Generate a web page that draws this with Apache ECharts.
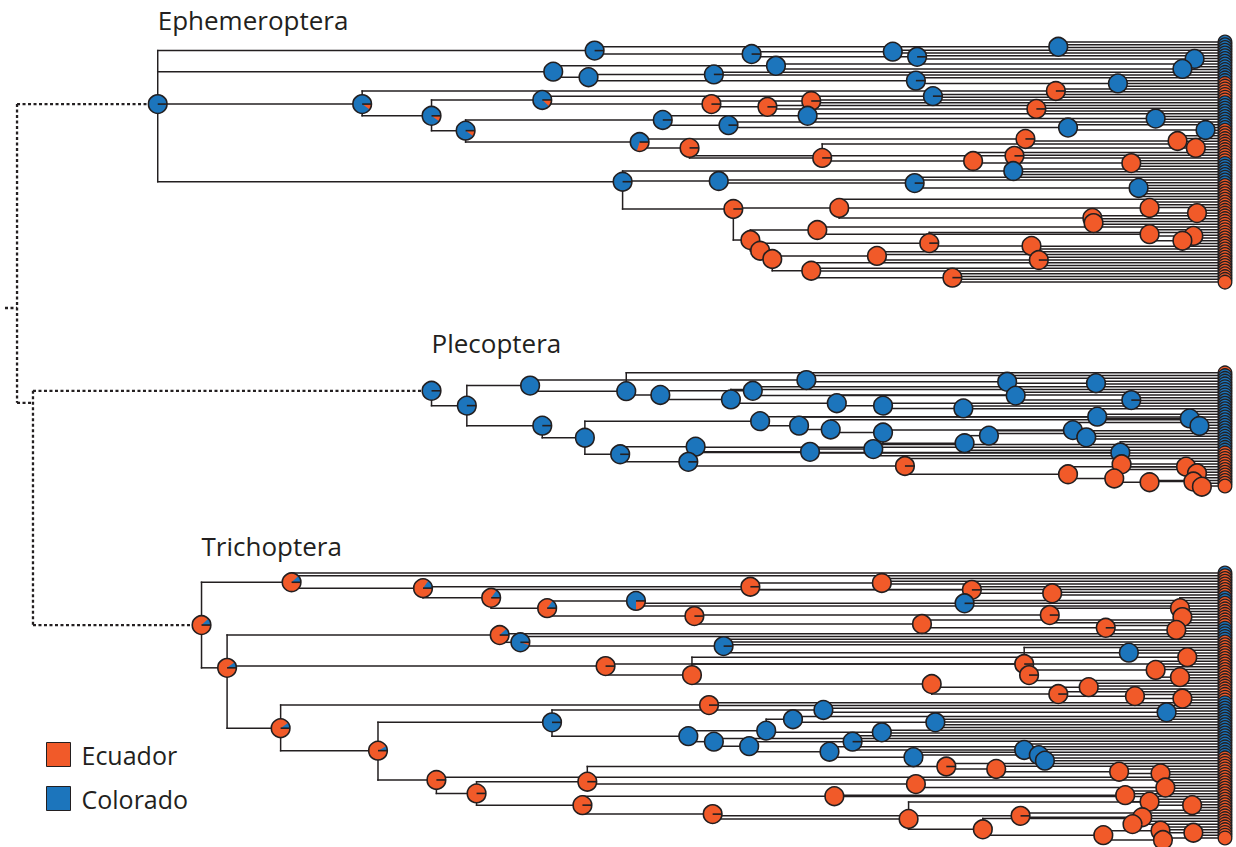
<!DOCTYPE html>
<html><head><meta charset="utf-8">
<script src="https://cdn.jsdelivr.net/npm/echarts@6.0.0/dist/echarts.min.js"></script>
<style>html,body{margin:0;padding:0;background:#fff}#chart{width:1236px;height:847px}</style>
</head><body><div id="chart"></div>
<script>
// ---------------- DATA ----------------
// x: relative time from the root (tips at 100); y: row position (top = 0)
// blue: probability of Colorado state at a node (1 - Ecuador)
const ephNodeX = [12.3, 48.2, 44.8, 29.1, 50.5, 61.1, 72.7, 74.7, 86.3, 97.5,
  96.5, 63.1, 47.7, 58.0, 74.6, 91.2, 76.0, 86.1, 34.8, 43.9,
  37.6, 57.8, 62.4, 66.0, 84.5, 65.7, 53.8, 51.9, 59.2, 94.3,
  87.1, 98.4, 56.0, 83.6, 96.1, 97.6, 66.9, 82.7, 79.3, 92.3,
  82.6, 58.4, 74.5, 92.9, 59.6, 68.3, 93.8, 97.7, 89.1, 89.2,
  61.0, 66.5, 93.8, 97.4, 96.5, 61.8, 75.7, 84.1, 62.8, 71.4,
  84.7, 66.0, 77.6];
const ephNodeY = [18.0, 2.5, 8.6, 18.0, 40.5, 3.5, 2.8, 4.3, 1.4, 4.9,
  7.8, 6.9, 10.2, 9.4, 11.2, 12.0, 15.7, 14.2, 21.4, 16.8,
  25.7, 18.0, 18.8, 17.1, 19.4, 21.4, 22.6, 29.0, 24.1, 22.2,
  24.8, 25.5, 30.7, 28.1, 28.7, 30.7, 33.6, 33.0, 34.5, 35.1,
  37.4, 40.3, 40.9, 42.3, 48.4, 48.1, 48.1, 49.6, 51.0, 52.5,
  57.4, 54.5, 55.7, 56.2, 57.6, 60.5, 58.3, 59.1, 62.9, 62.0,
  63.2, 66.3, 68.3];
const ephNodeBlue = [0.998, 0.998, 1, 0.9, 0.998, 0.998, 1, 0.998, 1, 1,
  1, 1, 1, 0.998, 0.998, 1, 0.998, 0.002, 0.9, 0.88,
  0.9, 0.002, 0.002, 0.002, 0.002, 1, 0.998, 0.7, 0.998, 1,
  1, 1, 0.002, 0.002, 0, 0, 0.002, 0.002, 0, 0,
  1, 1, 0.998, 1, 0.002, 0, 0, 0, 0, 0,
  0, 0, 0, 0, 0, 0, 0.002, 0, 0, 0,
  0.002, 0, 0.002];
const ephNodeParent = [-1, 0, 0, 0, 0, 1, 5, 5, 1, 7,
  11, 2, 2, 12, 12, 14, 19, 3, 3, 18,
  18, 19, 21, 21, 22, 26, 20, 20, 26, 25,
  28, 30, 27, 27, 33, 33, 32, 32, 36, 38,
  4, 4, 41, 42, 4, 44, 45, 46, 45, 48,
  44, 50, 51, 52, 52, 50, 55, 56, 55, 58,
  59, 58, 61];
// tip states, top to bottom: C = Colorado, E = Ecuador
const ephTipStates = 'CCCCCCCCCC' + 'CCCCCEEEEE' + 'EECCCCCCCC' + 'CCEEEEEEEE' + 'EEEECCCCCC' +
  'CCEEEEEEEE' + 'EEEEEEEEEE' + 'EEEEEEEEEE' + 'EEEEEEEE';

const plecoNodeX = [34.8, 37.7, 42.9, 65.6, 50.8, 53.6, 61.2, 59.4, 43.9, 47.4,
  61.8, 65.0, 50.3, 56.5, 55.9, 65.9, 82.1, 89.4, 82.8, 92.3,
  68.1, 71.9, 78.5, 67.6, 71.9, 89.5, 97.1, 97.9, 87.5, 88.6,
  78.6, 80.6, 71.1, 91.4, 91.5, 73.7, 87.1, 90.9, 93.8, 96.8,
  97.7, 97.4, 98.1];
const plecoNodeY = [101.1, 105.4, 99.6, 98.0, 101.2, 102.3, 101.1, 103.6, 111.2, 114.7,
  109.9, 111.2, 119.5, 117.3, 121.7, 118.8, 98.5, 98.9, 102.5, 103.8,
  104.7, 105.4, 106.2, 112.3, 113.2, 108.6, 109.1, 111.3, 112.5, 114.6,
  116.3, 114.1, 118.0, 119.0, 122.4, 122.9, 125.3, 126.5, 127.6, 123.1,
  125.0, 127.4, 128.9];
const plecoNodeBlue = [0.998, 0.998, 1, 1, 1, 1, 1, 1, 0.998, 1,
  1, 1, 0.998, 1, 0.998, 1, 1, 1, 1, 0.998,
  1, 1, 1, 1, 1, 1, 1, 1, 1, 1,
  1, 1, 1, 1, 0, 0.002, 0, 0, 0, 0,
  0, 0, 0];
const plecoNodeParent = [-1, 0, 1, 2, 2, 4, 5, 5, 1, 8,
  9, 10, 9, 12, 12, 13, 3, 16, 6, 18,
  7, 20, 21, 11, 23, 10, 25, 26, 24, 28,
  32, 30, 15, 14, 33, 14, 35, 36, 37, 34,
  39, 38, 41];
const plecoTipStates = 'ECCCCCCCCC' + 'CCCCCCCCCC' + 'CCCCCCCCCE' + 'EEEEEEEEEE' + 'EE';

const trichoNodeX = [15.9, 23.3, 18.0, 34.1, 61.0, 39.7, 44.3, 51.6, 56.4, 40.4,
  42.1, 58.8, 49.1, 56.2, 22.4, 57.6, 30.4, 44.7, 55.9, 58.0,
  60.9, 62.3, 64.5, 67.0, 35.2, 38.5, 47.6, 47.2, 57.9, 71.8,
  79.2, 78.6, 85.8, 85.6, 75.1, 90.2, 96.3, 96.5, 96.0, 92.1,
  96.9, 83.5, 83.9, 94.3, 96.3, 75.9, 88.8, 86.3, 92.6, 96.5,
  95.2, 76.2, 71.8, 69.4, 67.5, 74.4, 83.5, 84.7, 85.2, 77.1,
  81.2, 91.3, 94.7, 74.6, 95.1, 67.9, 91.8, 93.8, 97.3, 74.0,
  83.2, 93.2, 92.4, 80.1, 90.0, 94.7, 94.9, 97.4];
const trichoNodeY = [169.0, 156.6, 181.4, 158.3, 157.9, 161.1, 164.1, 162.0, 166.4, 171.9,
  174.0, 175.1, 180.9, 183.5, 198.9, 192.2, 205.4, 197.2, 201.2, 202.8,
  204.1, 199.6, 196.3, 193.6, 213.9, 217.8, 214.4, 221.2, 223.8, 156.8,
  158.8, 162.7, 159.8, 166.1, 168.7, 169.8, 164.1, 166.7, 170.4, 177.0,
  178.3, 180.3, 183.5, 182.0, 184.1, 186.1, 187.0, 189.0, 189.6, 190.3,
  194.3, 197.2, 200.1, 202.8, 205.7, 207.3, 205.2, 206.7, 208.3, 210.0,
  210.7, 211.5, 212.0, 215.1, 216.1, 218.6, 218.3, 220.2, 221.2, 225.2,
  224.3, 224.7, 226.7, 228.2, 229.9, 228.6, 231.3, 229.2];
const trichoNodeBlue = [0.12, 0.12, 0.10, 0.15, 0.002, 0.15, 0.15, 0.75, 0.002, 0.12,
  0.95, 0.998, 0.002, 0, 0.10, 0.002, 0.08, 0.998, 1, 1,
  1, 1, 1, 1, 0.002, 0.002, 0.002, 0.002, 0.002, 0,
  0.002, 0.998, 0, 0.002, 0, 0.002, 0, 0, 0, 1,
  0, 0.002, 0.002, 0, 0, 0, 0, 0.002, 0, 0,
  1, 1, 1, 0.998, 1, 1, 1, 0.998, 1, 0.002,
  0, 0, 0, 0, 0, 0, 0, 0, 0, 0,
  0.002, 0, 0, 0, 0, 0, 0, 0];
const trichoNodeParent = [-1, 0, 0, 1, 3, 3, 5, 6, 6, 2,
  9, 10, 2, 12, 2, 14, 14, 16, 17, 18,
  19, 18, 21, 17, 16, 24, 25, 25, 27, 4,
  4, 7, 30, 8, 8, 34, 33, 36, 35, 11,
  13, 13, 41, 42, 43, 13, 45, 45, 47, 48,
  23, 22, 21, 20, 20, 54, 53, 56, 57, 26,
  59, 60, 61, 26, 63, 27, 65, 66, 67, 28,
  28, 70, 71, 69, 73, 74, 74, 75];
const trichoTipStates = 'CEEEEEEEEC' + 'CEEEEEEEEE' + 'CCCCCEEEEE' + 'EEEEEEEEEE' + 'EEEEEEECCC' +
  'CCCCCCCCCC' + 'CCCCCCCEEE' + 'EEEEEEEEEE' + 'EEEEEEEEEE' + 'EEEEEEE';

// backbone joining the three orders (dashed), and which backbone node each order hangs from
const backboneX = [-0.25, 0.74, 2.05];
const backboneY = [77.1, 77.1, 104.6];
const backboneParent = [-1, 0, 1];
const cladeRootParent = [1, 2, 2];

const cladeNames = ['Ephemeroptera', 'Plecoptera', 'Trichoptera'];
const cladeLabelX = [12.3, 34.8, 15.9];
const cladeLabelY = [-6.4, 87.2, 146.1];
const legendNames = ['Ecuador', 'Colorado'];

// ---------------- LAYOUT ----------------
const ORANGE = '#F15A29', BLUE = '#1C75BC', EDGE = '#231f20';
const TIP_X = 100, TIP_STEP = 0.8;
const tipStarts = [0, 95.9, 153.9];

function buildClade(nx, ny, nb, np, tipStates, tipStart) {
  const nodes = nx.map((x, i) => ({ x: x, y: ny[i], p: nb[i], parent: np[i], kids: [] }));
  nodes.forEach(n => { if (n.parent >= 0) nodes[n.parent].kids.push(n.y); });
  const tips = tipStates.split('').map((s, i) => ({ y: tipStart + i * TIP_STEP, s: s, parent: -1 }));
  const order = nodes.map((d, i) => i).sort((a, b) => nodes[b].x - nodes[a].x);
  order.forEach(i => {
    const nd = nodes[i];
    const ic = nd.kids.length;
    let targets = [];
    if (ic === 0) targets = [nd.y - 0.4, nd.y + 0.4];
    else if (ic === 1) {
      const d = nd.kids[0] - nd.y;
      const off = Math.max(0.5, Math.abs(d));
      targets = [d > 0 ? nd.y - off : nd.y + off];
    }
    targets.forEach(t => {
      let best = -1, bd = 1e9;
      tips.forEach((tp, j) => { if (tp.parent < 0) { const dd = Math.abs(tp.y - t); if (dd < bd) { bd = dd; best = j; } } });
      if (best >= 0 && bd <= 5) tips[best].parent = i;
    });
  });
  tips.forEach(tp => {
    if (tp.parent >= 0) return;
    let best = -1, bx = -1;
    nodes.forEach((nd, i) => { if (Math.abs(nd.y - tp.y) <= 1.6 && nd.x > bx) { bx = nd.x; best = i; } });
    if (best < 0) {
      let bd = 1e9;
      nodes.forEach((nd, i) => { const d = Math.abs(nd.y - tp.y); if (d < bd) { bd = d; best = i; } });
    }
    tp.parent = best;
  });
  tips.forEach(tp => nodes[tp.parent].kids.push(tp.y));
  const seg = [];
  nodes.forEach(nd => {
    if (nd.parent >= 0) seg.push([nodes[nd.parent].x, nd.y, nd.x, nd.y]);
    if (nd.kids.length) {
      const ys = nd.kids.concat([nd.y]);
      seg.push([nd.x, Math.min.apply(null, ys), nd.x, Math.max.apply(null, ys)]);
    }
  });
  tips.forEach(tp => seg.push([nodes[tp.parent].x, tp.y, TIP_X, tp.y]));
  return { nodes: nodes, tips: tips, seg: seg };
}

const clades = [
  buildClade(ephNodeX, ephNodeY, ephNodeBlue, ephNodeParent, ephTipStates, tipStarts[0]),
  buildClade(plecoNodeX, plecoNodeY, plecoNodeBlue, plecoNodeParent, plecoTipStates, tipStarts[1]),
  buildClade(trichoNodeX, trichoNodeY, trichoNodeBlue, trichoNodeParent, trichoTipStates, tipStarts[2])
];

const segs = [], tipPts = [], nodePts = [];
clades.forEach(c => {
  c.seg.forEach(s => segs.push(s));
  c.tips.forEach(t => tipPts.push([TIP_X, t.y, t.s === 'C' ? 1 : 0]));
  c.nodes.forEach(n => nodePts.push([n.x, n.y, n.p]));
});

const bb = backboneX.map((x, i) => ({ x: x, y: backboneY[i], parent: backboneParent[i] }));
const roots = clades.map(c => c.nodes[0]);
const dashSegs = [];
bb.forEach(b => { if (b.parent >= 0) dashSegs.push([bb[b.parent].x, b.y, b.x, b.y]); });
cladeRootParent.forEach((pi, k) => dashSegs.push([bb[pi].x, roots[k].y, roots[k].x, roots[k].y]));
bb.forEach((b, i) => {
  const ys = [b.y];
  bb.forEach(o => { if (o.parent === i) ys.push(o.y); });
  cladeRootParent.forEach((pi, k) => { if (pi === i) ys.push(roots[k].y); });
  if (ys.length > 1) dashSegs.push([b.x, Math.min.apply(null, ys), b.x, Math.max.apply(null, ys)]);
});

function segRender(dash, width) {
  return function (params, api) {
    const a = api.coord([api.value(0), api.value(1)]);
    const b = api.coord([api.value(2), api.value(3)]);
    return {
      type: 'line',
      shape: { x1: a[0], y1: a[1], x2: b[0], y2: b[1] },
      style: { stroke: EDGE, lineWidth: width, lineDash: dash, lineCap: dash ? 'butt' : 'square' }
    };
  };
}

function pieRender(r, lw) {
  return function (params, api) {
    const c = api.coord([api.value(0), api.value(1)]);
    const p = api.value(2);
    const kids = [];
    kids.push({ type: 'circle', shape: { cx: c[0], cy: c[1], r: r }, style: { fill: p > 0 ? BLUE : ORANGE } });
    if (p > 0 && p < 1) {
      kids.push({ type: 'sector', shape: { cx: c[0], cy: c[1], r0: 0, r: r, startAngle: 0, endAngle: 2 * Math.PI * (1 - p), clockwise: true }, style: { fill: ORANGE } });
      kids.push({ type: 'line', shape: { x1: c[0], y1: c[1], x2: c[0] + r, y2: c[1] }, style: { stroke: EDGE, lineWidth: lw } });
    }
    kids.push({ type: 'circle', shape: { cx: c[0], cy: c[1], r: r }, style: { fill: 'none', stroke: EDGE, lineWidth: lw } });
    return { type: 'group', children: kids };
  };
}

const chart = echarts.init(document.getElementById('chart'), null, { renderer: 'svg' });
chart.setOption({
  animation: false,
  backgroundColor: '#ffffff',
  grid: { left: 0, right: 11, top: 0, bottom: 0 },
  xAxis: { type: 'value', min: -0.66, max: 100, show: false },
  yAxis: { type: 'value', min: -12.17, max: 233.33, inverse: true, show: false },
  legend: {
    orient: 'vertical', left: 41, top: 737, itemWidth: 24, itemHeight: 24, itemGap: 19,
    icon: 'rect', selectedMode: false, data: legendNames,
    itemStyle: { opacity: 1, borderColor: EDGE, borderWidth: 1 },
    textStyle: { fontSize: 25, color: EDGE, fontFamily: 'Open Sans', padding: [0, 0, 0, 6] }
  },
  series: [
    { type: 'custom', name: 'dashed', silent: true, z: 1, data: dashSegs, renderItem: segRender([3, 2.5], 2.3), encode: { x: [0, 2], y: [1, 3] } },
    { type: 'custom', name: 'edges', silent: true, z: 2, data: segs, renderItem: segRender(null, 1.5), encode: { x: [0, 2], y: [1, 3] } },
    { type: 'custom', name: 'tips', silent: true, z: 3, data: tipPts, renderItem: pieRender(6.8, 1.3), encode: { x: 0, y: 1 } },
    { type: 'custom', name: 'nodes', silent: true, z: 4, data: nodePts, renderItem: pieRender(9.3, 1.6), encode: { x: 0, y: 1 } },
    {
      type: 'custom', name: 'labels', silent: true, z: 5,
      data: cladeNames.map((n, i) => [cladeLabelX[i], cladeLabelY[i]]),
      encode: { x: 0, y: 1 },
      renderItem: function (params, api) {
        const c = api.coord([api.value(0), api.value(1)]);
        return { type: 'text', x: c[0], y: c[1], style: { text: cladeNames[params.dataIndex], fill: EDGE, fontSize: 26, fontFamily: 'Open Sans', align: 'left', verticalAlign: 'middle' } };
      }
    },
    { name: legendNames[0], type: 'scatter', data: [], itemStyle: { color: ORANGE, opacity: 1, borderColor: EDGE, borderWidth: 1 } },
    { name: legendNames[1], type: 'scatter', data: [], itemStyle: { color: BLUE, opacity: 1, borderColor: EDGE, borderWidth: 1 } }
  ]
});
</script></body></html>
